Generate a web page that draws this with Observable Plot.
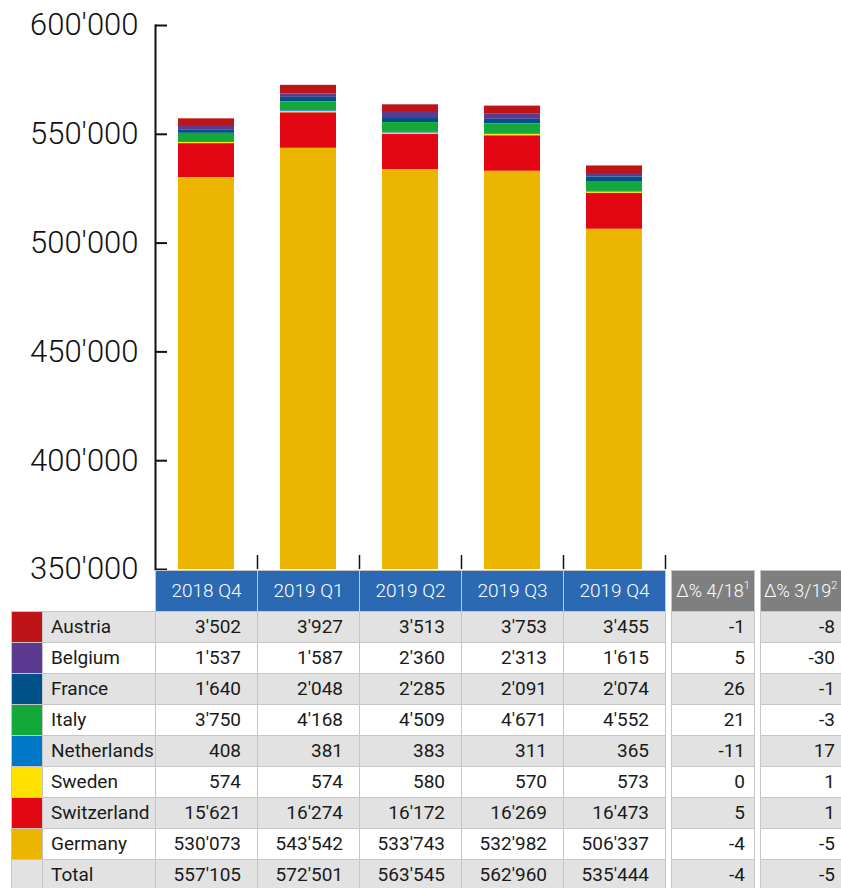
<!DOCTYPE html>
<html>
<head>
<meta charset="utf-8">
<script src="https://cdn.jsdelivr.net/npm/d3@7"></script>
<script src="https://cdn.jsdelivr.net/npm/@observablehq/plot@0.6"></script>
<style>
  html, body { margin: 0; padding: 0; background: #fff; }
  body { font-family: Roboto, "DejaVu Sans Condensed", sans-serif; color: #1a1a1a; }
  #wrap { position: relative; width: 841px; height: 888px; overflow: hidden; }
  #wrap svg { display: block; }
  .cell { position: absolute; box-sizing: border-box; border: 1px solid #c6c6c6; font-size: 19px; white-space: nowrap; overflow: hidden; }
  .cell sup { font-size: 11px; vertical-align: 8px; line-height: 0; }
</style>
</head>
<body>
<div id="wrap"></div>
<script>
// ---- data ----
const quarters = ["2018 Q4", "2019 Q1", "2019 Q2", "2019 Q3", "2019 Q4"];
const countries = ["Austria", "Belgium", "France", "Italy", "Netherlands", "Sweden", "Switzerland", "Germany"];
const colors = ["#be1418", "#5c3a92", "#00508a", "#14a83b", "#0078c8", "#ffe200", "#e30613", "#ecb600"];
const stackOrder = ["Germany", "Switzerland", "Sweden", "Netherlands", "Italy", "France", "Belgium", "Austria"];

const austria     = [3502, 3927, 3513, 3753, 3455];
const belgium     = [1537, 1587, 2360, 2313, 1615];
const france      = [1640, 2048, 2285, 2091, 2074];
const italy       = [3750, 4168, 4509, 4671, 4552];
const netherlands = [408, 381, 383, 311, 365];
const sweden      = [574, 574, 580, 570, 573];
const switzerland = [15621, 16274, 16172, 16269, 16473];
const germany     = [530073, 543542, 533743, 532982, 506337];
const totals      = [557105, 572501, 563545, 562960, 535444];

const deltaHeaders = [["Δ% 4/18", "1"], ["Δ% 3/19", "2"]];
const delta418 = [-1, 5, 26, 21, -11, 0, 5, -4, -4];
const delta319 = [-8, -30, -1, -3, 17, 1, 1, -5, -5];
const totalLabel = "Total";

const yTicks = [350000, 400000, 450000, 500000, 550000, 600000];
const yDomain = [350000, 600000];

// ---- build tidy table ----
const series = [austria, belgium, france, italy, netherlands, sweden, switzerland, germany];
const rows = [];
countries.forEach((c, i) => quarters.forEach((q, j) => rows.push({country: c, quarter: q, value: series[i][j]})));

const loc = d3.formatLocale({decimal: ".", thousands: "'", grouping: [3], currency: ["", ""], minus: "-"});
const fmt = loc.format(",d");

// ---- chart ----
const W = 841, H = 570, mL = 155, mR = 176, mT = 25, mB = 1;
const frameH = H - mT - mB;
const step = (W - mL - mR) / quarters.length;
const tickLen = 14;
const fontFam = 'Roboto, "DejaVu Sans Condensed", sans-serif';

const chart = Plot.plot({
  width: W, height: H,
  marginTop: mT, marginBottom: mB, marginLeft: mL, marginRight: mR,
  style: {fontFamily: fontFam, background: "white", color: "#111", overflow: "visible"},
  x: {domain: quarters, paddingInner: 0.45, paddingOuter: 0.225, axis: null},
  y: {domain: yDomain},
  color: {domain: countries, range: colors},
  marks: [
    Plot.barY(rows, {x: "quarter", y: "value", fill: "country", order: stackOrder, clip: true}),
    Plot.frame({anchor: "left", strokeWidth: 2, stroke: "#111"}),
    Plot.axisY(yTicks, {tickSize: 0, tickPadding: 17, tickFormat: fmt, fontSize: 31, fontWeight: 300, label: null}),
    Plot.axisY(yTicks, {tickSize: 12, dx: 12, fill: "none", stroke: "#111", strokeWidth: 2, label: null}),
    Plot.ruleX(quarters, {x: d => d, dx: step / 2, y1: yDomain[0], y2: yDomain[0] + tickLen * (yDomain[1] - yDomain[0]) / frameH, stroke: "#111", strokeWidth: 1.5})
  ]
});
const wrap = document.getElementById("wrap");
wrap.appendChild(chart);

// ---- table ----
const xs = chart.scale("x");
const bw = xs.bandwidth, st = xs.step;
const colLeft = q => xs.apply(q) - (st - bw) / 2;

const headerTop = H, headerH = 41, rowH = 31;
const swX = 11, swW = 31, nameX = 42, nameW = mL - 42;
const gap = 6, d1W = 83;
const d1X = W - mR + gap, d2X = d1X + d1W + gap, d2W = W - d2X + 2;

function cell(x, y, w, h, html, o = {}) {
  const d = document.createElement("div");
  d.className = "cell";
  Object.assign(d.style, {left: x + "px", top: y + "px", width: (w + 1) + "px", height: (h + 1) + "px",
    lineHeight: (h - 1) + "px", background: o.bg || "#fff", color: o.color || "#1a1a1a",
    textAlign: o.align || "right", paddingLeft: (o.pl || 0) + "px", paddingRight: (o.pr || 0) + "px"});
  if (o.weight) d.style.fontWeight = o.weight;
  if (o.size) d.style.fontSize = o.size + "px";
  d.innerHTML = html;
  wrap.appendChild(d);
}

const blue = "#2b6ab3", grey = "#7f7f7f", light = "#e2e2e2";
quarters.forEach(q => cell(colLeft(q), headerTop, st, headerH, q, {bg: blue, color: "#fff", align: "center", weight: 300}));
cell(d1X, headerTop, d1W, headerH, deltaHeaders[0][0] + "<sup>" + deltaHeaders[0][1] + "</sup>", {bg: grey, color: "#fff", align: "center", size: 18, weight: 300});
cell(d2X, headerTop, d2W, headerH, deltaHeaders[1][0] + "<sup>" + deltaHeaders[1][1] + "</sup>", {bg: grey, color: "#fff", align: "left", pl: 3, size: 18, weight: 300});

const labels = [...countries, totalLabel];
const values = [...series, totals];
labels.forEach((lab, r) => {
  const y = headerTop + headerH + r * rowH;
  const bg = r % 2 === 0 ? light : "#fff";
  cell(swX, y, swW, rowH, "", {bg: r < countries.length ? colors[r] : light});
  cell(nameX, y, nameW, rowH, lab, {bg, align: "left", pl: 8});
  quarters.forEach((q, j) => cell(colLeft(q), y, st, rowH, fmt(values[r][j]), {bg, pr: 16}));
  cell(d1X, y, d1W, rowH, String(delta418[r]), {bg, pr: 9});
  cell(d2X, y, d2W, rowH, String(delta319[r]), {bg, pr: 8});
});
</script>
</body>
</html>
